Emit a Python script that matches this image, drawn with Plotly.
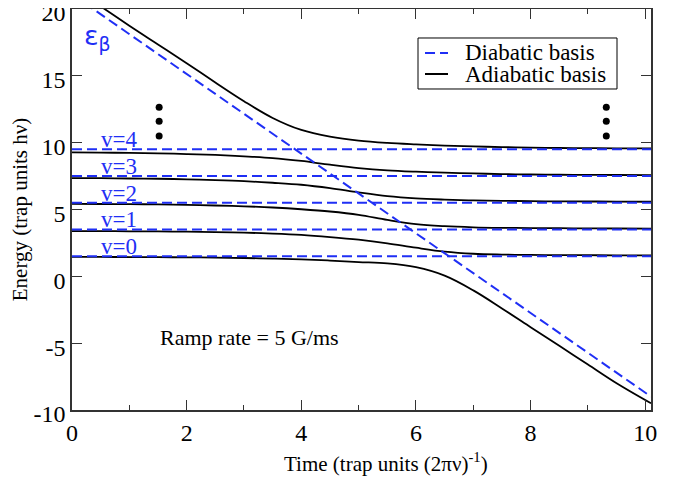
import plotly.graph_objects as go

# Diabatic (uncoupled) trap levels and the molecular ramp line
LEVELS = [1.5, 3.5, 5.5, 7.5, 9.5]
LEVEL_NAMES = ["v=0", "v=1", "v=2", "v=3", "v=4"]
LEVEL_T = [0, 10.1]
EPS_T = [0, 10.1]
EPS_E = [21.1, -9.0]

# Adiabatic curves (bottom to top)
T = [0, 0.5, 1, 1.5, 2, 2.5, 3, 3.5, 4, 4.5, 5, 5.5, 6, 6.5, 7, 7.5, 8, 8.5, 9, 9.5, 10.1]
C1 = [1.45, 1.45, 1.44, 1.43, 1.42, 1.4, 1.37, 1.33, 1.27, 1.18, 1.07, 0.97, 0.68, 0.05,
      -1.05, -2.4, -3.8, -5.2, -6.6, -8.0, -9.5]
C2 = [3.38, 3.38, 3.37, 3.36, 3.34, 3.31, 3.27, 3.2, 3.1, 2.94, 2.74, 2.47, 2.14, 1.85,
      1.69, 1.63, 1.6, 1.59, 1.58, 1.57, 1.57]
C3 = [5.42, 5.41, 5.4, 5.38, 5.35, 5.3, 5.24, 5.15, 5.02, 4.85, 4.6, 4.22, 3.9, 3.75,
      3.67, 3.63, 3.61, 3.6, 3.59, 3.58, 3.57]
C4 = [7.35, 7.34, 7.32, 7.3, 7.26, 7.2, 7.12, 7.0, 6.85, 6.6, 6.28, 6.0, 5.83, 5.74,
      5.68, 5.65, 5.62, 5.61, 5.6, 5.59, 5.58]
C5 = [9.28, 9.26, 9.23, 9.2, 9.15, 9.08, 8.98, 8.85, 8.63, 8.35, 8.1, 7.93, 7.83, 7.76,
      7.7, 7.65, 7.62, 7.6, 7.59, 7.58, 7.57]
C6 = [21.6, 20.2, 18.75, 17.35, 15.95, 14.5, 13.1, 11.85, 10.95, 10.45, 10.15, 9.98, 9.87,
      9.78, 9.72, 9.67, 9.63, 9.6, 9.59, 9.58, 9.57]

# "more levels" dots
DOT_T = [1.52, 1.52, 1.52, 9.32, 9.32, 9.32]
DOT_E = [12.65, 11.6, 10.5, 12.65, 11.6, 10.5]

# tick labels (plain hyphen minus, as in the original)
X_TICKS = [0, 2, 4, 6, 8, 10]
Y_TICKS = [-10, -5, 0, 5, 10, 15, 20]
Y_TICK_TEXT = ["-10", "-5", "0", "5", "10", "15", "20"]

LEGEND_NAMES = ["Diabatic basis", "Adiabatic basis"]

BLUE = "#1f2ff5"
FRAME = "#333333"
SERIF = "Liberation Serif, Times New Roman, serif"
DASH = "10px,5px"

fig = go.Figure()

for c in [C1, C2, C3, C4, C5, C6]:
    fig.add_trace(go.Scatter(
        x=T, y=c, mode="lines", name=LEGEND_NAMES[1], showlegend=False,
        line=dict(color="black", width=1.8, shape="spline", smoothing=1.0),
    ))

for lv in LEVELS:
    fig.add_trace(go.Scatter(
        x=LEVEL_T, y=[lv, lv], mode="lines", name=LEGEND_NAMES[0], showlegend=False,
        line=dict(color=BLUE, width=2, dash=DASH),
    ))
fig.add_trace(go.Scatter(
    x=EPS_T, y=EPS_E, mode="lines", showlegend=False,
    line=dict(color=BLUE, width=2, dash=DASH),
))

fig.add_trace(go.Scatter(
    x=DOT_T, y=DOT_E, mode="markers", showlegend=False,
    marker=dict(color="black", size=7),
))

for lv, name in zip(LEVELS, LEVEL_NAMES):
    fig.add_annotation(x=0.82, y=lv + 0.72, text=name, showarrow=False,
                       font=dict(family=SERIF, size=23, color=BLUE))

fig.add_annotation(x=0.18, y=17.9, text="ε<sub>β</sub>", showarrow=False, xanchor="left",
                   font=dict(family="DejaVu Sans", size=27, color=BLUE))
fig.add_annotation(x=3.09, y=-4.55, text="Ramp rate = 5 G/ms", showarrow=False,
                   font=dict(family=SERIF, size=22, color="black"))
fig.add_annotation(x=0.542, y=-0.132, xref="paper", yref="paper", yanchor="middle",
                   text="Time (trap units (2πν)<sup>-1</sup>)", showarrow=False,
                   font=dict(family=SERIF, size=21, color="black"))

# boxed legend in the upper right (drawn by hand so the rows sit tight like the original)
fig.add_shape(type="rect", xref="paper", yref="paper", x0=0.5976, x1=0.9413, y0=0.8005,
              y1=0.9277, line=dict(color="black", width=1), fillcolor="white", layer="above")
for row_y, name, color, dash in ((0.8903, LEGEND_NAMES[0], BLUE, DASH),
                                 (0.8379, LEGEND_NAMES[1], "black", "solid")):
    fig.add_shape(type="line", xref="paper", yref="paper", x0=0.6097, x1=0.6494,
                  y0=row_y, y1=row_y, line=dict(color=color, width=2, dash=dash),
                  layer="above")
    fig.add_annotation(x=0.6753, y=row_y, xref="paper", yref="paper", xanchor="left",
                       yanchor="middle", text=name, showarrow=False,
                       font=dict(family=SERIF, size=23, color="black"))

axis_common = dict(
    showline=True, linecolor=FRAME, linewidth=1.5, mirror="ticks",
    ticks="inside", ticklen=10, tickwidth=1.2, tickcolor=FRAME,
    showgrid=False, zeroline=False, automargin=False, ticklabeloverflow="allow",
    tickfont=dict(family=SERIF, size=24, color="black"),
)

# the page body adds an 8px offset, so the figure is 8px smaller than the window
fig.update_layout(
    width=670, height=470,
    margin=dict(l=64, r=27, t=1, b=68),
    paper_bgcolor="white", plot_bgcolor="white",
    font=dict(family=SERIF, color="black"),
    showlegend=False,
    xaxis=dict(range=[0, 10.1], tickvals=X_TICKS,
               minor=dict(dtick=1, ticks="inside", ticklen=5, tickcolor=FRAME),
               **axis_common),
    yaxis=dict(range=[-10, 20], tickvals=Y_TICKS, ticktext=Y_TICK_TEXT,
               ticklabelshift=4,
               title=dict(text="Energy (trap units hν)", standoff=6,
                          font=dict(family=SERIF, size=21, color="black")),
               **axis_common),
)

fig.write_html("out.html")
